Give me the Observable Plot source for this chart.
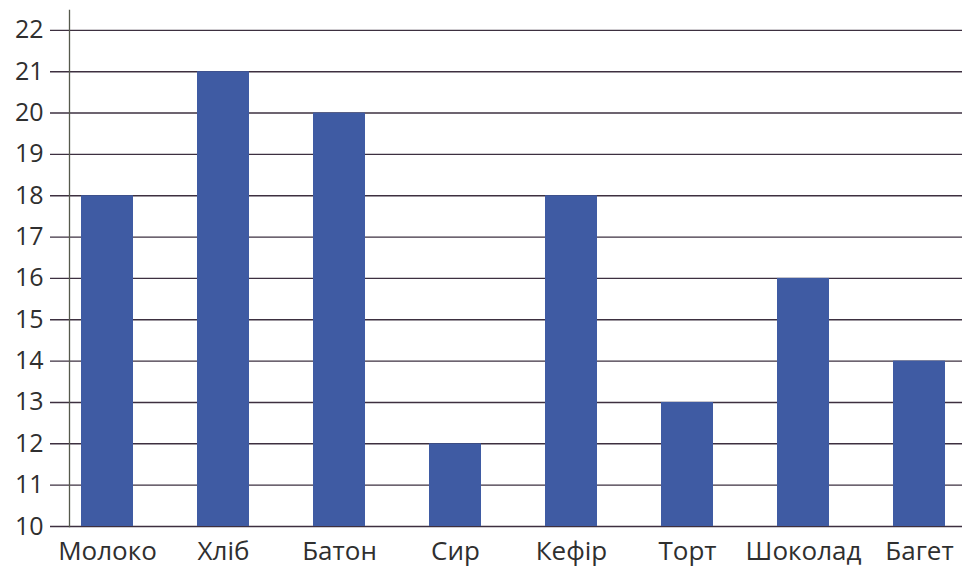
<!DOCTYPE html>
<html>
<head>
<meta charset="utf-8">
<script src="https://cdn.jsdelivr.net/npm/d3@7"></script>
<script src="https://cdn.jsdelivr.net/npm/@observablehq/plot@0.6"></script>
<style>
  html, body { margin: 0; padding: 0; background: #ffffff; }
  #chart svg { display: block; }
</style>
</head>
<body>
<div id="chart"></div>
<script>
const categories = ["Молоко", "Хліб", "Батон", "Сир", "Кефір", "Торт", "Шоколад", "Багет"];
const values = [18, 21, 20, 12, 18, 13, 16, 14];
const yTicks = [10, 11, 12, 13, 14, 15, 16, 17, 18, 19, 20, 21, 22];

const data = categories.map((c, i) => ({category: c, value: values[i]}));

const chart = Plot.plot({
  width: 962,
  height: 575,
  marginLeft: 69,
  marginRight: 5,
  marginTop: 10,
  marginBottom: 49,
  style: {fontFamily: "'Open Sans', 'Noto Sans', sans-serif", background: "#ffffff"},
  x: {domain: categories, paddingInner: 0.55, paddingOuter: 0.1, label: null},
  y: {domain: [10, 22.48], label: null},
  marks: [
    Plot.ruleY(yTicks, {stroke: "#3d3040", strokeWidth: 1.4, insetLeft: -19, insetRight: -5}),
    Plot.barY(data, {x: "category", y1: 10, y2: "value", fill: "#3f5ba3"}),
    Plot.frame({anchor: "left", stroke: "#55594c", strokeWidth: 1.3}),
    Plot.axisY({ticks: yTicks, tickSize: 0, tickPadding: 26, fontSize: 25, fill: "#2f2f2f", label: null}),
    Plot.axisX({tickSize: 0, tickPadding: 15, fontSize: 26, fill: "#2f2f2f", label: null})
  ]
});
document.getElementById("chart").appendChild(chart);
</script>
</body>
</html>
